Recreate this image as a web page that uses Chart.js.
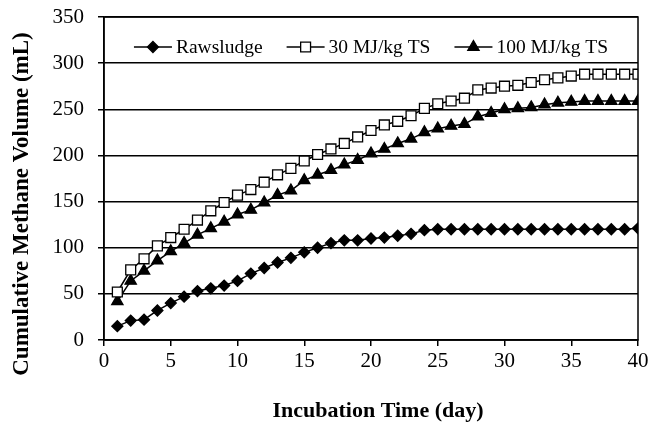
<!DOCTYPE html>
<html lang="en">
<head>
    <meta charset="UTF-8">
    <title>Cumulative Methane Volume</title>
    <script src="https://cdn.jsdelivr.net/npm/chart.js@4.4.0/dist/chart.umd.min.js"></script>
    <style>
        html, body { margin: 0; padding: 0; background: #fff; }
        #wrap { width: 650px; height: 423px; }
    </style>
</head>
<body>
    <div id="wrap"><canvas id="grafico" width="650" height="423"></canvas></div>

    <script>
        // dias de incubação
        const days = [1, 2, 3, 4, 5, 6, 7, 8, 9, 10, 11, 12, 13, 14, 15, 16, 17, 18, 19, 20,
                      21, 22, 23, 24, 25, 26, 27, 28, 29, 30, 31, 32, 33, 34, 35, 36, 37, 38, 39, 40];

        const rawSludge = [15, 21, 22, 32, 40, 47, 53, 56, 59, 64, 72, 78, 84, 89, 95, 100, 105, 108, 108, 110,
                           111, 113, 115, 119, 120, 120, 120, 120, 120, 120, 120, 120, 120, 120, 120, 120, 120, 120, 120, 121];
        const mj30 = [52, 76, 88, 102, 111, 120, 130, 140, 149, 157, 163, 171, 179, 186, 194, 201, 207, 213, 220, 227,
                      233, 237, 243, 251, 256, 259, 262, 271, 273, 275, 276, 279, 282, 284, 286, 288, 288, 288, 288, 288];
        const mj100 = [42, 64, 75, 86, 96, 105, 114, 121, 128, 136, 141, 149, 157, 162, 173, 179, 184, 190, 195, 202,
                       207, 213, 218, 225, 229, 232, 234, 242, 246, 250, 251, 252, 255, 257, 258, 259, 259, 259, 259, 259];

        const seriesNames = ['Rawsludge', '30 MJ/kg TS', '100 MJ/kg TS'];
        const xTicks = [0, 5, 10, 15, 20, 25, 30, 35, 40];
        const yTicks = [0, 50, 100, 150, 200, 250, 300, 350];
        const xTitle = 'Incubation Time (day)';
        const yTitle = 'Cumulative Methane Volume (mL)';

        const serif = "'Liberation Serif', 'Times New Roman', serif";

        function pts(values) {
            return days.map((d, i) => ({ x: d, y: values[i] }));
        }

        // legenda dentro da área do gráfico (linha + marcador + texto), moldura e títulos dos eixos
        const extras = {
            id: 'extras',
            afterDatasetsDraw(chart) {
                const ctx = chart.ctx;
                const area = chart.chartArea;
                const lineLen = 38, gapText = 4, gapItem = 24;
                ctx.save();
                ctx.font = '19.5px ' + serif;
                const widths = chart.data.datasets.map(ds => lineLen + gapText + ctx.measureText(ds.label).width);
                const total = widths.reduce((a, b) => a + b, 0) + gapItem * (widths.length - 1);
                let x = (area.left + area.right) / 2 - total / 2;
                const y = area.top + 30;
                chart.data.datasets.forEach((ds, i) => {
                    ctx.strokeStyle = '#000';
                    ctx.lineWidth = 1.5;
                    ctx.beginPath();
                    ctx.moveTo(x, y);
                    ctx.lineTo(x + lineLen, y);
                    ctx.stroke();
                    ctx.fillStyle = ds.pointBackgroundColor;
                    ctx.strokeStyle = '#000';
                    ctx.lineWidth = ds.pointBorderWidth;
                    Chart.helpers.drawPoint(ctx, {
                        pointStyle: ds.pointStyle,
                        radius: ds.pointRadius,
                        borderWidth: ds.pointBorderWidth
                    }, x + lineLen / 2, y);
                    ctx.fillStyle = '#000';
                    ctx.textBaseline = 'middle';
                    ctx.textAlign = 'left';
                    ctx.fillText(ds.label, x + lineLen + gapText, y + 1);
                    x += widths[i] + gapItem;
                });
                ctx.restore();
            },
            afterDraw(chart) {
                const a = chart.chartArea;
                const ctx = chart.ctx;
                ctx.save();
                ctx.strokeStyle = '#000';
                ctx.lineWidth = 1.5;
                ctx.strokeRect(a.left, a.top, a.right - a.left, a.bottom - a.top);

                ctx.fillStyle = '#000';
                ctx.textAlign = 'center';
                ctx.textBaseline = 'middle';
                ctx.font = 'bold 22px ' + serif;
                ctx.fillText(xTitle, a.left + 274, 411);
                ctx.translate(22, a.bottom - 136);
                ctx.rotate(-Math.PI / 2);
                ctx.font = 'bold 23px ' + serif;
                ctx.fillText(yTitle, 0, 0);
                ctx.restore();
            }
        };

        const common = {
            borderColor: '#000',
            borderWidth: 1.5,
            pointBorderColor: '#000',
            pointBorderWidth: 1.3,
            tension: 0,
            fill: false
        };

        const ctx = document.getElementById('grafico').getContext('2d');
        const grafico = new Chart(ctx, {
            type: 'line',
            data: {
                datasets: [
                    { ...common, label: seriesNames[0], data: pts(rawSludge), pointStyle: 'rectRot', pointRadius: 5.5, pointBackgroundColor: '#000' },
                    { ...common, label: seriesNames[1], data: pts(mj30), pointStyle: 'rect', pointRadius: 7, pointBackgroundColor: '#fff' },
                    { ...common, label: seriesNames[2], data: pts(mj100), pointStyle: 'triangle', pointRadius: 6.5, pointBackgroundColor: '#000' }
                ]
            },
            plugins: [extras],
            options: {
                responsive: false,
                animation: false,
                layout: { padding: { top: 17, right: 12, left: 0, bottom: 0 } },
                plugins: { legend: { display: false }, tooltip: { enabled: false } },
                scales: {
                    x: {
                        type: 'linear',
                        min: 0, max: 40,
                        afterBuildTicks: s => { s.ticks = xTicks.map(v => ({ value: v })); },
                        afterFit: s => { s.height = 83; s.paddingLeft = 0; s.paddingRight = 0; },
                        grid: { drawOnChartArea: false, color: '#000', tickLength: 6, lineWidth: 1.5 },
                        border: { color: '#000', width: 1.5 },
                        ticks: { color: '#000', font: { family: serif, size: 21 }, padding: 3, maxRotation: 0 }
                    },
                    y: {
                        min: 0, max: 350,
                        afterBuildTicks: s => { s.ticks = yTicks.map(v => ({ value: v })); },
                        afterFit: s => { s.width = 104; s.paddingTop = 0; s.paddingBottom = 0; },
                        grid: { color: '#000', tickLength: 6, lineWidth: 1.5 },
                        border: { color: '#000', width: 1.5 },
                        ticks: { color: '#000', font: { family: serif, size: 21 }, padding: 14 }
                    }
                }
            }
        });
    </script>
</body>
</html>
